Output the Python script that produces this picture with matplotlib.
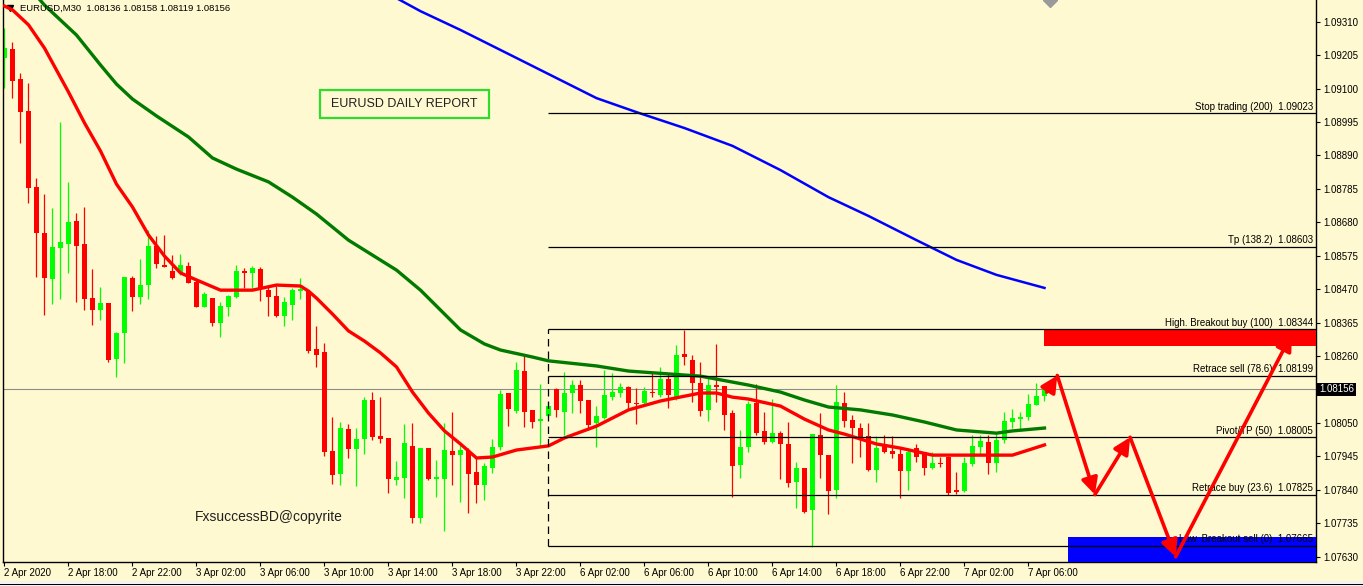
import matplotlib.pyplot as plt
from matplotlib.patches import Rectangle

plt.rcParams['font.family'] = ['Liberation Sans', 'DejaVu Sans']

# EURUSD M30 candles, one per bar index 0..130
opens = [1.09196, 1.09224, 1.09130, 1.09030, 1.08791, 1.08646, 1.08502, 1.08599, 1.08612, 1.08684,
         1.08612, 1.08442, 1.08405, 1.08427, 1.08251, 1.08332, 1.08505, 1.08445, 1.08483, 1.08606,
         1.08546, 1.08527, 1.08521, 1.08543, 1.08492, 1.08414, 1.08442, 1.08364, 1.08414, 1.08445,
         1.08527, 1.08521, 1.08533, 1.08467, 1.08449, 1.08386, 1.08420, 1.08464, 1.08464, 1.08282,
         1.08273, 1.07962, 1.07890, 1.08031, 1.07968, 1.07999, 1.08122, 1.08009, 1.08003, 1.07871,
         1.07877, 1.07978, 1.07751, 1.07971, 1.07874, 1.07874, 1.07962, 1.07949, 1.07962, 1.07896,
         1.07855, 1.07908, 1.07974, 1.08144, 1.08087, 1.08213, 1.08091, 1.08056, 1.08072, 1.08156,
         1.08084, 1.08144, 1.08169, 1.08122, 1.08050, 1.08066, 1.08131, 1.08144, 1.08163, 1.08113,
         1.08113, 1.08147, 1.08138, 1.08188, 1.08131, 1.08266, 1.08248, 1.08175, 1.08091, 1.08169,
         1.08166, 1.08081, 1.07918, 1.07974, 1.08113, 1.08025, 1.07990, 1.08018, 1.07984, 1.07864,
         1.07908, 1.07777, 1.08012, 1.07949, 1.07839, 1.08113, 1.08059, 1.08034, 1.08009, 1.07902,
         1.07984, 1.07962, 1.07952, 1.07899, 1.07971, 1.07959, 1.07908, 1.07924, 1.07943, 1.07839,
         1.07836, 1.07921, 1.07974, 1.07990, 1.07924, 1.07996, 1.08053, 1.08062, 1.08069, 1.08106,
         1.08136]
highs = [1.09290, 1.09246, 1.09149, 1.09117, 1.08819, 1.08769, 1.08725, 1.08995, 1.08807, 1.08709,
         1.08728, 1.08533, 1.08477, 1.08427, 1.08335, 1.08508, 1.08511, 1.08565, 1.08656, 1.08637,
         1.08640, 1.08577, 1.08580, 1.08555, 1.08499, 1.08461, 1.08442, 1.08430, 1.08452, 1.08546,
         1.08536, 1.08543, 1.08540, 1.08483, 1.08480, 1.08445, 1.08474, 1.08505, 1.08467, 1.08354,
         1.08301, 1.08069, 1.08053, 1.08047, 1.08034, 1.08131, 1.08147, 1.08131, 1.08003, 1.07930,
         1.08047, 1.08050, 1.07971, 1.07971, 1.07934, 1.08050, 1.08084, 1.07981, 1.07971, 1.07940,
         1.07924, 1.07999, 1.08153, 1.08144, 1.08241, 1.08263, 1.08091, 1.08172, 1.08116, 1.08160,
         1.08210, 1.08185, 1.08185, 1.08122, 1.08103, 1.08216, 1.08207, 1.08175, 1.08166, 1.08160,
         1.08163, 1.08210, 1.08226, 1.08207, 1.08295, 1.08342, 1.08263, 1.08241, 1.08191, 1.08298,
         1.08166, 1.08091, 1.08028, 1.08119, 1.08172, 1.08084, 1.08125, 1.08025, 1.08053, 1.07927,
         1.07908, 1.08015, 1.08081, 1.07949, 1.08169, 1.08147, 1.08075, 1.08050, 1.08050, 1.08009,
         1.08012, 1.08009, 1.07974, 1.07971, 1.07984, 1.07959, 1.07959, 1.07943, 1.07946, 1.07896,
         1.07943, 1.08012, 1.08012, 1.08012, 1.08018, 1.08084, 1.08094, 1.08084, 1.08141, 1.08175,
         1.08158]
lows = [1.09102, 1.09070, 1.08929, 1.08741, 1.08508, 1.08389, 1.08423, 1.08439, 1.08521, 1.08430,
        1.08405, 1.08358, 1.08373, 1.08241, 1.08194, 1.08238, 1.08401, 1.08423, 1.08439, 1.08536,
        1.08540, 1.08502, 1.08515, 1.08489, 1.08414, 1.08414, 1.08354, 1.08320, 1.08386, 1.08442,
        1.08474, 1.08470, 1.08433, 1.08386, 1.08383, 1.08354, 1.08373, 1.08439, 1.08270, 1.08226,
        1.07946, 1.07858, 1.07855, 1.07940, 1.07852, 1.07952, 1.07996, 1.07987, 1.07830, 1.07855,
        1.07814, 1.07736, 1.07736, 1.07871, 1.07817, 1.07711, 1.07855, 1.07802, 1.07767, 1.07799,
        1.07808, 1.07893, 1.07965, 1.08040, 1.08081, 1.08037, 1.08034, 1.07974, 1.08069, 1.08069,
        1.08012, 1.08081, 1.08081, 1.08028, 1.07974, 1.08062, 1.08122, 1.08131, 1.08091, 1.08047,
        1.08106, 1.08131, 1.08131, 1.08097, 1.08122, 1.08232, 1.08116, 1.08072, 1.08056, 1.08116,
        1.08028, 1.07817, 1.07877, 1.07959, 1.08012, 1.07984, 1.07987, 1.07874, 1.07849, 1.07783,
        1.07767, 1.07660, 1.07877, 1.07764, 1.07814, 1.08037, 1.07924, 1.07943, 1.07899, 1.07864,
        1.07956, 1.07940, 1.07814, 1.07839, 1.07927, 1.07886, 1.07905, 1.07912, 1.07824, 1.07827,
        1.07833, 1.07915, 1.07952, 1.07890, 1.07896, 1.07987, 1.08034, 1.08028, 1.08059, 1.08106,
        1.08119]
closes = [1.09227, 1.09124, 1.09026, 1.08788, 1.08646, 1.08505, 1.08602, 1.08618, 1.08681, 1.08606,
          1.08439, 1.08405, 1.08427, 1.08248, 1.08332, 1.08508, 1.08445, 1.08483, 1.08606, 1.08549,
          1.08540, 1.08505, 1.08546, 1.08489, 1.08414, 1.08455, 1.08364, 1.08417, 1.08449, 1.08527,
          1.08521, 1.08536, 1.08470, 1.08445, 1.08386, 1.08430, 1.08467, 1.08470, 1.08276, 1.08263,
          1.07959, 1.07886, 1.08034, 1.07968, 1.07999, 1.08122, 1.08006, 1.07999, 1.07874, 1.07880,
          1.07987, 1.07751, 1.07971, 1.07874, 1.07880, 1.07965, 1.07949, 1.07965, 1.07890, 1.07855,
          1.07915, 1.07974, 1.08141, 1.08094, 1.08216, 1.08084, 1.08053, 1.08062, 1.08103, 1.08091,
          1.08144, 1.08169, 1.08119, 1.08044, 1.08072, 1.08138, 1.08147, 1.08163, 1.08113, 1.08109,
          1.08150, 1.08144, 1.08188, 1.08138, 1.08263, 1.08257, 1.08175, 1.08087, 1.08169, 1.08163,
          1.08075, 1.07915, 1.07974, 1.08109, 1.08018, 1.07990, 1.08018, 1.07984, 1.07861, 1.07908,
          1.07770, 1.08015, 1.07949, 1.07836, 1.08116, 1.08056, 1.08034, 1.08006, 1.07902, 1.07971,
          1.07959, 1.07952, 1.07899, 1.07959, 1.07943, 1.07908, 1.07924, 1.07921, 1.07830, 1.07833,
          1.07924, 1.07978, 1.07993, 1.07924, 1.07996, 1.08056, 1.08066, 1.08069, 1.08109, 1.08135,
          1.08156]

# moving averages (bar index, price)
ma_fast_bars = [0, 1, 3, 5, 8, 10, 12, 14, 16, 18, 20, 22, 24, 27, 31, 34, 37, 38, 39, 41, 43, 45, 47, 49,
                51, 53, 55, 57, 59, 61, 64, 68, 70, 74, 78, 82, 87, 89, 91, 93, 97, 100, 103, 105, 109,
                112, 116, 120, 126, 128, 130]
ma_fast = [1.09359, 1.09347, 1.09300, 1.09227, 1.09089, 1.08992, 1.08904, 1.08800, 1.08728, 1.08640,
           1.08574, 1.08521, 1.08499, 1.08467, 1.08467, 1.08483, 1.08480, 1.08464, 1.08442, 1.08392,
           1.08339, 1.08307, 1.08270, 1.08226, 1.08147, 1.08081, 1.08025, 1.07984, 1.07940, 1.07943,
           1.07965, 1.07978, 1.08003, 1.08040, 1.08091, 1.08119, 1.08144, 1.08144, 1.08131, 1.08125,
           1.08103, 1.08062, 1.08028, 1.08015, 1.07984, 1.07971, 1.07949, 1.07949, 1.07949, 1.07965,
           1.07981]
ma_mid_bars = [4, 5, 7, 9, 12, 14, 16, 19, 23, 26, 29, 33, 36, 39, 43, 49, 52, 54, 57, 60, 62, 66, 68, 74,
               78, 83, 87, 93, 97, 100, 103, 107, 111, 115, 119, 124, 126, 130]
ma_mid = [1.09391, 1.09362, 1.09315, 1.09268, 1.09174, 1.09114, 1.09067, 1.09014, 1.08948, 1.08882,
          1.08847, 1.08807, 1.08759, 1.08706, 1.08624, 1.08530, 1.08467, 1.08417, 1.08342, 1.08298,
          1.08279, 1.08257, 1.08245, 1.08229, 1.08213, 1.08204, 1.08197, 1.08169, 1.08147, 1.08122,
          1.08100, 1.08091, 1.08075, 1.08053, 1.08028, 1.08018, 1.08025, 1.08034]
ma_slow_bars = [49, 52, 57, 64, 69, 74, 79, 85, 91, 97, 103, 108, 114, 119, 124, 130]
ma_slow = [1.09384, 1.09343, 1.09284, 1.09196, 1.09133, 1.09070, 1.09026, 1.08976, 1.08920, 1.08844,
           1.08759, 1.08700, 1.08624, 1.08562, 1.08515, 1.08474]

level_names = ["Stop trading (200)", "Tp (138.2)", "High. Breakout buy (100)", "Retrace sell (78.6)",
               "Pivot/TP (50)", "Retrace buy (23.6)", "Low. Breakout sell (0)"]
level_values = [1.09023, 1.08603, 1.08344, 1.08199, 1.08005, 1.07825, 1.07665]
level_start = 67.95

sell_zone = (129.94, 1.08292, 1.08344)
buy_zone = (132.9, 1.07613, 1.07693)

path_x = [130.3, 131.6, 136.3, 140.7, 146.4, 160.9]
path_y = [1.08147, 1.08199, 1.07825, 1.08005, 1.07630, 1.08329]

last_price = 1.08156
header = "EURUSD,M30  1.08136 1.08158 1.08119 1.08156"

# 1.08155 is hidden under the current-price box in the terminal
price_ticks = [1.07630, 1.07735, 1.07840, 1.07945, 1.08050, 1.08260, 1.08365, 1.08470,
               1.08575, 1.08680, 1.08785, 1.08890, 1.08995, 1.09100, 1.09205, 1.09310]
time_ticks = list(range(0, 129, 8))
time_labels = ["2 Apr 2020", "2 Apr 18:00", "2 Apr 22:00", "3 Apr 02:00", "3 Apr 06:00", "3 Apr 10:00",
               "3 Apr 14:00", "3 Apr 18:00", "3 Apr 22:00", "6 Apr 02:00", "6 Apr 06:00", "6 Apr 10:00",
               "6 Apr 14:00", "6 Apr 18:00", "6 Apr 22:00", "7 Apr 02:00", "7 Apr 06:00"]

BG = '#FEF9D0'
W, H = 1363, 586
fig = plt.figure(figsize=(W / 100, H / 100), dpi=100, facecolor=BG)
ax = fig.add_axes([3 / W, 24 / H, 1313 / W, 562 / H], facecolor=BG)
XMIN, XMAX = -0.1875, 163.94
ax.set_xlim(XMIN, XMAX)
ax.set_ylim(1.076134, 1.093781)

# candles
x = list(range(len(opens)))
cols = ['#00FF00' if c >= o else '#FF0000' for o, c in zip(opens, closes)]
ax.vlines(x, lows, highs, colors=cols, lw=0.9, zorder=2)
bottoms = [min(o, c) for o, c in zip(opens, closes)]
heights = [max(abs(c - o), 0.00003) for o, c in zip(opens, closes)]
ax.bar(x, heights, bottom=bottoms, width=0.625, color=cols, linewidth=0, zorder=2)

# moving averages
ax.plot(ma_slow_bars, ma_slow, color='#0000FF', lw=1.8, zorder=3)
ax.plot(ma_mid_bars, ma_mid, color='#007A00', lw=2.4, zorder=3)
ax.plot(ma_fast_bars, ma_fast, color='#FF0000', lw=2.4, zorder=4)

# current price line
ax.axhline(last_price, color='#8C8C8C', lw=0.8, zorder=1)

# zones
ax.add_patch(Rectangle((sell_zone[0], sell_zone[1]), XMAX - sell_zone[0], sell_zone[2] - sell_zone[1],
                       facecolor='#FF0000', edgecolor='none', zorder=5))
ax.add_patch(Rectangle((buy_zone[0], buy_zone[1]), XMAX - buy_zone[0], buy_zone[2] - buy_zone[1],
                       facecolor='#0000FF', edgecolor='none', zorder=5))

# fibonacci levels
ax.hlines(level_values, level_start, XMAX, colors='black', lw=0.9, zorder=6)
ax.vlines(level_start, level_values[-1], level_values[2], colors='black', lw=0.9,
          linestyles=(0, (6, 4)), zorder=6)
ytr = ax.get_yaxis_transform()
for name, val in zip(level_names, level_values):
    ax.annotate(f"{name}  {val:.5f}", xy=(1 - 3 / 1313, val), xycoords=ytr, xytext=(0, 1),
                textcoords='offset points', ha='right', va='bottom', fontsize=7, color='black', zorder=7)

# projected path arrows
for i in range(len(path_x) - 1):
    ax.annotate('', xy=(path_x[i + 1], path_y[i + 1]), xytext=(path_x[i], path_y[i]),
                arrowprops=dict(arrowstyle='-|>,head_length=0.7,head_width=0.35', color='#FF0000',
                                lw=2.6, shrinkA=0, shrinkB=0, mutation_scale=14), zorder=8)

# texts
ax.plot([(10 - 3) / 1313], [1 - 8 / 562], transform=ax.transAxes, marker='v', ms=5, color='black',
        clip_on=False)
ax.text((20 - 3) / 1313, 1 - 8 / 562, header, transform=ax.transAxes, fontsize=6.8, va='center', ha='left')
ax.add_patch(Rectangle(((320 - 3) / 1313, 1 - 118 / 562), 169 / 1313, 28 / 562, transform=ax.transAxes,
                       facecolor='none', edgecolor='#2EDC2E', lw=1.6, zorder=6))
ax.text((404.5 - 3) / 1313, 1 - 104 / 562, "EURUSD DAILY REPORT", transform=ax.transAxes, fontsize=9,
        ha='center', va='center', color='#202020')
ax.text((195 - 3) / 1313, 1 - 517 / 562, "FxsuccessBD@copyrite", transform=ax.transAxes, fontsize=10,
        ha='left', va='center', color='#202020')
ax.plot([130.7], [1.093781], marker='D', ms=7, color='#9A9A9A', clip_on=True, zorder=9)

# axes
for s in ['left', 'right', 'bottom']:
    ax.spines[s].set_color('black')
    ax.spines[s].set_linewidth(1.0)
ax.spines['top'].set_visible(False)
ax.yaxis.tick_right()
ax.set_yticks(price_ticks)
ax.set_yticklabels([f"{v:.5f}" for v in price_ticks])
ax.tick_params(axis='y', direction='out', length=3, width=0.8, pad=2, labelsize=7)
ax.set_xticks(time_ticks)
ax.set_xticklabels(time_labels)
for lbl in ax.get_xticklabels():
    lbl.set_ha('left')
ax.tick_params(axis='x', direction='out', length=3, width=0.8, pad=1.5, labelsize=7)
ax.text(1 + 3 / 1313, last_price, f"{last_price:.5f}", transform=ytr, fontsize=7, color='white',
        ha='left', va='center', bbox=dict(facecolor='black', edgecolor='none', pad=1.2), clip_on=False)

# bottom strip
fig.patches.append(Rectangle((0, 0), 1, 5 / H, transform=fig.transFigure, facecolor='#F2F2F2',
                             edgecolor='none'))
fig.patches.append(Rectangle((0, 1 / H), 1, 1 / H, transform=fig.transFigure, facecolor='black',
                             edgecolor='none'))

fig.savefig('out.png', dpi=100, facecolor=BG)
